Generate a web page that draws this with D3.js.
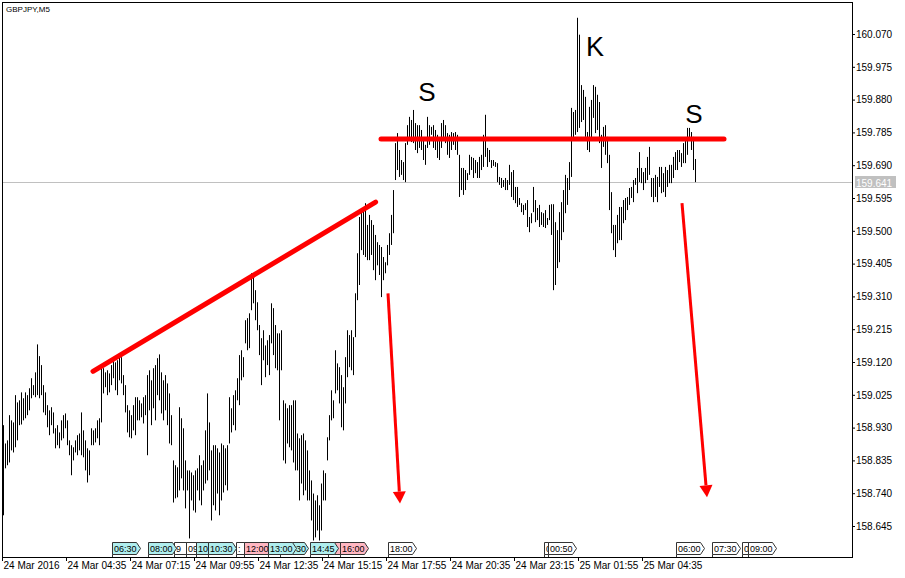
<!DOCTYPE html>
<html><head><meta charset="utf-8">
<script src="https://cdn.jsdelivr.net/npm/d3@7"></script>
<style>
html,body{margin:0;padding:0;background:#fff;}
svg{display:block;}
text{font-family:"Liberation Sans",Arial,sans-serif;}
</style></head><body>
<svg id="c" width="905" height="578"></svg>
<script>
const symbol = "GBPJPY,M5";
const lastPrice = 159.641;

const highs = [
158.937,158.884,158.893,158.966,158.951,158.945,159.024,159.003,159.009,159.032,
159.015,159.032,159.024,159.044,159.073,159.053,159.090,159.171,159.137,159.111,
159.053,159.032,158.995,158.980,158.989,158.974,158.928,158.937,158.916,158.951,
158.966,158.971,158.951,158.893,158.879,158.873,158.893,158.908,158.913,158.974,
158.922,158.893,158.870,158.864,158.928,158.922,158.928,158.951,158.957,159.105,
159.102,159.090,159.096,159.087,159.111,159.131,159.119,159.125,159.140,159.134,
159.082,159.053,158.995,158.980,158.966,158.995,159.018,159.018,
159.009,159.000,159.018,159.024,159.082,159.096,159.067,159.102,159.111,159.131,
159.142,159.090,159.067,159.082,159.058,159.029,158.966,158.835,158.821,158.815,
158.989,158.957,158.928,158.835,158.806,158.806,158.800,158.792,158.806,158.812,
158.850,158.821,158.835,158.922,159.029,158.945,158.864,158.879,158.879,158.870,
158.858,158.884,158.879,158.870,158.879,159.018,158.986,159.024,159.038,159.073,
159.140,159.154,159.134,159.241,159.247,159.261,159.377,159.369,159.328,159.293,
159.227,159.189,159.212,159.168,159.183,159.198,159.290,159.276,159.227,159.203,
159.203,159.212,159.009,159.000,158.986,158.995,158.995,159.009,159.009,158.913,
158.899,158.908,158.913,158.893,158.864,158.806,158.777,158.739,158.719,158.734,
158.705,158.768,158.806,158.798,158.902,158.966,159.038,159.009,159.154,159.116,
159.105,159.082,159.047,159.134,159.212,159.198,159.212,159.192,159.319,159.435,
159.540,159.560,159.569,159.580,159.517,159.546,159.531,159.517,159.488,159.467,
159.459,159.453,159.424,159.409,159.459,159.493,159.546,159.618,159.754,159.783,
159.734,159.705,159.699,159.754,159.806,159.830,159.821,159.850,159.812,159.806,
159.806,159.792,159.769,159.749,159.830,159.806,159.801,159.806,159.792,159.778,
159.763,159.812,159.821,159.806,159.783,159.778,159.786,159.783,159.786,159.778,
159.720,159.682,159.682,159.676,159.667,159.720,159.714,159.711,159.705,159.699,
159.714,159.720,159.778,159.836,159.740,159.734,159.705,159.705,159.699,159.696,
159.656,159.653,159.647,159.653,159.647,159.691,159.670,159.676,159.627,159.627,
159.595,159.580,159.575,159.580,159.589,159.540,159.551,159.627,159.589,159.566,
159.575,159.554,159.551,159.560,159.537,159.575,159.577,159.577,159.525,159.502,
159.554,159.583,159.618,159.662,159.653,159.699,159.856,159.844,159.850,160.117,
160.068,159.922,159.908,159.888,159.786,159.859,159.879,159.922,159.917,159.894,
159.873,159.778,159.801,159.806,159.772,159.720,159.612,159.517,159.517,159.546,
159.569,159.569,159.589,159.595,159.598,159.624,159.627,159.647,159.653,159.682,
159.728,159.682,159.670,159.682,159.714,159.743,159.653,159.653,159.662,159.656,
159.685,159.685,159.667,159.685,159.676,159.691,159.691,159.714,159.728,159.734,
159.734,159.725,159.754,159.769,159.798,159.798,159.786,159.772,159.708
];

const lows = [
158.676,158.812,158.821,158.829,158.864,158.858,158.873,158.893,158.937,158.939,
158.951,158.957,158.966,158.980,159.015,159.024,159.018,159.024,159.015,159.024,
158.974,158.966,158.931,158.908,158.937,158.913,158.870,158.879,158.870,158.893,
158.899,158.928,158.879,158.850,158.792,158.835,158.858,158.850,158.864,158.850,
158.844,158.806,158.771,158.792,158.879,158.879,158.887,158.899,158.879,158.945,
159.029,159.047,159.024,159.032,159.053,159.073,159.038,159.024,159.067,159.058,
159.024,158.974,158.916,158.902,158.899,158.922,158.908,158.951,
158.951,158.960,158.942,158.966,158.850,158.980,158.937,158.986,158.951,159.024,
159.009,158.971,158.951,158.980,158.937,158.884,158.879,158.713,158.725,158.728,
158.748,158.783,158.748,158.696,158.748,158.609,158.719,158.690,158.684,158.748,
158.719,158.705,158.748,158.768,158.777,158.806,158.661,158.705,158.690,158.739,
158.676,158.719,158.742,158.763,158.748,158.884,158.916,158.937,158.922,159.009,
158.995,159.067,159.076,159.174,159.154,159.160,159.270,159.290,159.241,159.212,
159.140,159.053,159.125,159.076,159.111,159.082,159.174,159.140,159.102,159.096,
158.951,159.096,158.835,158.826,158.884,158.873,158.864,158.829,158.806,158.806,
158.719,158.768,158.734,158.748,158.719,158.719,158.661,158.603,158.612,158.632,
158.603,158.632,158.719,158.719,158.835,158.893,158.951,158.957,159.029,159.038,
159.000,158.931,158.922,159.000,159.076,159.105,159.096,159.082,159.192,159.299,
159.343,159.444,159.430,159.424,159.415,159.415,159.430,159.386,159.357,159.400,
159.372,159.308,159.357,159.377,159.400,159.430,159.459,159.493,159.647,159.676,
159.656,159.662,159.647,159.641,159.749,159.763,159.757,159.754,159.734,159.725,
159.740,159.734,159.705,159.691,159.740,159.749,159.778,159.740,159.734,159.711,
159.705,159.740,159.763,159.754,159.720,159.711,159.734,159.749,159.734,159.720,
159.598,159.618,159.604,159.618,159.647,159.662,159.676,159.653,159.667,159.653,
159.653,159.676,159.685,159.714,159.685,159.699,159.682,159.688,159.685,159.641,
159.633,159.624,159.627,159.618,159.618,159.633,159.598,159.589,159.580,159.569,
159.575,159.554,159.546,159.560,159.511,159.496,159.522,159.554,159.525,159.531,
159.511,159.517,159.511,159.508,159.517,159.531,159.488,159.328,159.343,159.392,
159.409,159.473,159.496,159.551,159.575,159.618,159.656,159.763,159.778,159.786,
159.798,159.815,159.821,159.772,159.734,159.728,159.763,159.827,159.783,159.792,
159.754,159.682,159.743,159.720,159.696,159.560,159.493,159.444,159.424,159.464,
159.473,159.473,159.522,159.531,159.560,159.575,159.595,159.583,159.633,159.609,
159.641,159.638,159.618,159.638,159.647,159.662,159.598,159.583,159.598,159.583,
159.627,159.609,159.612,159.598,159.627,159.638,159.638,159.653,159.676,159.676,
159.699,159.685,159.696,159.696,159.720,159.763,159.734,159.676,159.641
];

const priceTicks = [158.645,158.740,158.835,158.930,159.025,159.120,159.215,159.310,
  159.405,159.500,159.595,159.690,159.785,159.880,159.975,160.070];
const timeTickBars = [0,32,64,96,128,160,192,224,256,288,320];
const timeTickLabels = ["24 Mar 2016","24 Mar 04:35","24 Mar 07:15","24 Mar 09:55",
  "24 Mar 12:35","24 Mar 15:15","24 Mar 17:55","24 Mar 20:35","24 Mar 23:15",
  "25 Mar 01:55","25 Mar 04:35"];

// calendar event tags (draw order): bar index, visible text, kind, text alignment
const eventBars   = [55,86,73,92,97,117,103,121,139,133,163,154,169,193,271,273,337,355,370,373];
const eventLabels = ["06:30","9","08:00","09","10",":","10:30","12:00","30","13:00",
  "","14:45","16:00","18:00","0","00:50","06:00","07:30","0","09:00"];
const eventKinds  = ["info","plain","info","plain","info","plain","info","alert","info","info",
  "alert","info","alert","plain","plain","plain","plain","plain","plain","plain"];
const eventAlign  = ["start","start","start","start","start","start","start","start","end","start",
  "start","start","start","start","start","start","start","start","start","start"];

// annotations (bar index, price)
const trendLines = [
  {b0:45.5, p0:159.093, b1:186.8, p1:159.583},
  {b0:189.5, p0:159.766, b1:361, p1:159.766}
];
const arrows = [
  {b0:193, p0:159.319, b1:199, p1:158.710},
  {b0:340, p0:159.580, b1:352.5, p1:158.728}
];
const marks = [
  {bar:212.5, price:159.876, text:"S", size:26},
  {bar:296.5, price:160.007, text:"K", size:27},
  {bar:346, price:159.812, text:"S", size:26}
];

(function(){
const svg = d3.select("#c");
const W = 905, H = 578;
const L = 2, R = 852, T = 2, B = 557;

const x = d3.scaleLinear().domain([0, 425]).range([L, R]);
const y = d3.scaleLinear().domain([158.645, 160.070]).range([526, 34]);

svg.append("rect").attr("width", W).attr("height", H).attr("fill", "#fff");

// current price line (behind bars)
const yp = Math.round(y(lastPrice)) + 0.5;
svg.append("line").attr("x1", L).attr("x2", R).attr("y1", yp).attr("y2", yp)
  .attr("stroke", "#c0c0c0").attr("stroke-width", 1);

// bars
svg.append("g").selectAll("line").data(highs).join("line")
  .attr("x1", (d,i) => Math.round(x(i)) + 1.5)
  .attr("x2", (d,i) => Math.round(x(i)) + 1.5)
  .attr("y1", d => y(d))
  .attr("y2", (d,i) => y(lows[i]))
  .attr("stroke", "#000").attr("stroke-width", 1);

// event tags
const fills = {info:"#afeeee", alert:"#ffb6c1", plain:"#ffffff"};
const ev = svg.append("g");
eventBars.forEach((b,i) => {
  const xl = Math.round(x(b)) + 0.5;
  const t = 542.5, bt = 554.5, m = 548.5;
  ev.append("line").attr("x1", xl).attr("x2", xl).attr("y1", bt).attr("y2", 557)
    .attr("stroke", "#333");
  ev.append("path")
    .attr("d", `M${xl},${t}H${xl+24}L${xl+28},${m}L${xl+24},${bt}H${xl}Z`)
    .attr("fill", fills[eventKinds[i]]).attr("stroke", "#333").attr("stroke-width", 1);
  if (eventLabels[i]) {
    const endA = eventAlign[i] === "end";
    ev.append("text").attr("x", endA ? xl + 25.5 : xl + 1.5).attr("y", 552)
      .attr("text-anchor", endA ? "end" : "start")
      .attr("font-size", 9).attr("fill", "#000").text(eventLabels[i]);
  }
});

// frame
const fr = svg.append("g").attr("stroke", "#000").attr("stroke-width", 1);
fr.append("line").attr("x1", L).attr("x2", R + 1).attr("y1", T + 0.5).attr("y2", T + 0.5);
fr.append("line").attr("x1", L + 0.5).attr("x2", L + 0.5).attr("y1", T).attr("y2", B + 1);
fr.append("line").attr("x1", R + 0.5).attr("x2", R + 0.5).attr("y1", T).attr("y2", B + 1);
fr.append("line").attr("x1", L).attr("x2", R + 1).attr("y1", B + 0.5).attr("y2", B + 0.5);

// axes
const ax = svg.append("g").attr("transform", `translate(0,${B})`)
  .call(d3.axisBottom(x).tickValues(timeTickBars).tickFormat((d,i) => timeTickLabels[i])
    .tickSize(4).tickPadding(1));
ax.select(".domain").remove();
ax.selectAll("text").attr("text-anchor", "start").attr("x", 1)
  .attr("font-size", 10).attr("font-family", '"Liberation Sans",Arial,sans-serif').attr("fill", "#000");
ax.selectAll("line").attr("stroke", "#000");

const ay = svg.append("g").attr("transform", `translate(${R},0)`)
  .call(d3.axisRight(y).tickValues(priceTicks).tickFormat(d3.format(".3f"))
    .tickSize(3).tickPadding(1));
ay.select(".domain").remove();
ay.selectAll("text").attr("font-size", 10)
  .attr("font-family", '"Liberation Sans",Arial,sans-serif').attr("fill", "#000");
ay.selectAll("line").attr("stroke", "#000");

// current price label
svg.append("rect").attr("x", 855).attr("y", yp - 6.5).attr("width", 41).attr("height", 12)
  .attr("fill", "#c0c0c0");
svg.append("text").attr("x", 856).attr("y", yp + 4).attr("font-size", 10)
  .attr("fill", "#fff").text(d3.format(".3f")(lastPrice));

// symbol
svg.append("text").attr("x", 6).attr("y", 12).attr("font-size", 8).attr("fill", "#000").text(symbol);

// red trend lines
trendLines.forEach(l => {
  svg.append("line").attr("x1", x(l.b0)).attr("y1", y(l.p0)).attr("x2", x(l.b1)).attr("y2", y(l.p1))
    .attr("stroke", "#ff0000").attr("stroke-width", 5).attr("stroke-linecap", "round");
});

// red arrows
arrows.forEach(a => {
  const x0 = x(a.b0), y0 = y(a.p0), x1 = x(a.b1), y1 = y(a.p1);
  const dx = x1 - x0, dy = y1 - y0, len = Math.hypot(dx, dy);
  const ux = dx/len, uy = dy/len, px = -uy, py = ux;
  const hl = 12, hw = 6.5;
  const bx = x1 - ux*hl, by = y1 - uy*hl;
  svg.append("line").attr("x1", x0).attr("y1", y0).attr("x2", bx).attr("y2", by)
    .attr("stroke", "#ff0000").attr("stroke-width", 3);
  svg.append("path")
    .attr("d", `M${bx+px*hw},${by+py*hw}L${x1},${y1}L${bx-px*hw},${by-py*hw}Z`)
    .attr("fill", "#ff0000");
});

// letters
marks.forEach(m => {
  svg.append("text").attr("x", x(m.bar)).attr("y", y(m.price)).attr("text-anchor", "middle")
    .attr("font-size", m.size).attr("fill", "#000").text(m.text);
});
})();
</script>
</body></html>
